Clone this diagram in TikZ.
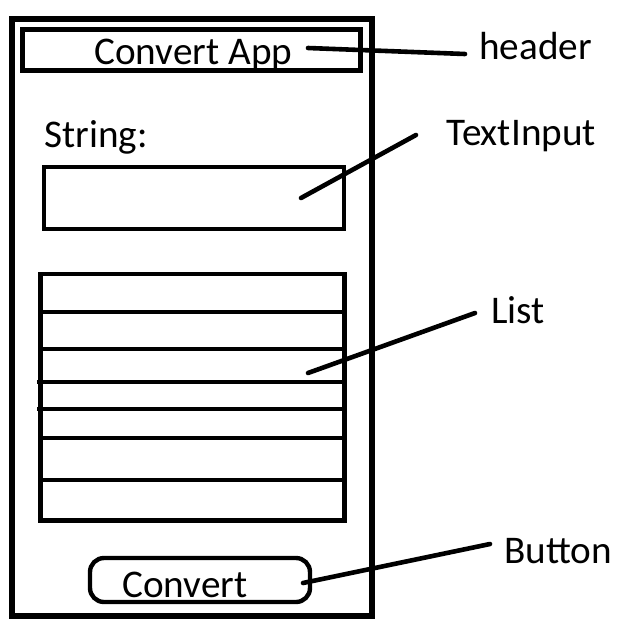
\documentclass[tikz,border=0pt]{standalone}
\usepackage{fontspec}
\setmainfont{Carlito}
\usepackage{tikz}

\begin{document}
\begin{tikzpicture}[x=0.5pt, y=-0.5pt,
    frame/.style={draw=black, line width=2.6pt},
    box/.style={draw=black, line width=2.2pt},
    lead/.style={draw=black, line width=2.3pt, line cap=round},
    txt/.style={anchor=base west, inner sep=0pt, font=\fontsize{19.6}{23}\selectfont}]
                \useasboundingbox (0, 0) rectangle (642, 633);

                % phone screen
                \draw[frame] (12, 19) rectangle (372, 616);
                \draw[box] (22.5, 29.5) rectangle (360.5, 70.5);
                \draw[box] (44, 167) rectangle (344, 229);
                \draw[box] (40.5, 274) rectangle (344.5, 520.5);
                \foreach \y/\a/\b in {312/40/344, 349/40/344, 382/37/344, 409/37/344, 438/40/347, 480/40/344}
                    \draw[box] (\a, \y) -- (\b, \y);
                \draw[box, rounded corners=7pt] (90, 558) rectangle (310, 602);

                \node[txt] (title) at (94, 64) {Convert App};
                \node[txt] (str) at (44, 147) {String:};
                \node[txt] (btn) at (122, 597) {Convert};

                % labels
                \node[txt] (header) at (479, 59) {header};
                \node[txt] (textinput) at (446, 145) {TextInput};
                \node[txt] (list) at (491, 323) {List};
                \node[txt] (button) at (504, 563) {Button};

                \coordinate (hdrTip) at (308, 48);
                \coordinate (inTip) at (301, 198);
                \coordinate (listTip) at (308, 373);
                \coordinate (btnTip) at (303, 583);

                \draw[lead] (hdrTip) -- ([xshift=-7pt, yshift=2.5pt]header.base west);
                \draw[lead] (inTip) -- ([xshift=-15pt, yshift=5pt]textinput.base west);
                \draw[lead] (listTip) -- ([xshift=-8pt, yshift=5pt]list.base west);
                \draw[lead] (btnTip) -- ([xshift=-7pt, yshift=9.5pt]button.base west);
\end{tikzpicture}
\end{document}
